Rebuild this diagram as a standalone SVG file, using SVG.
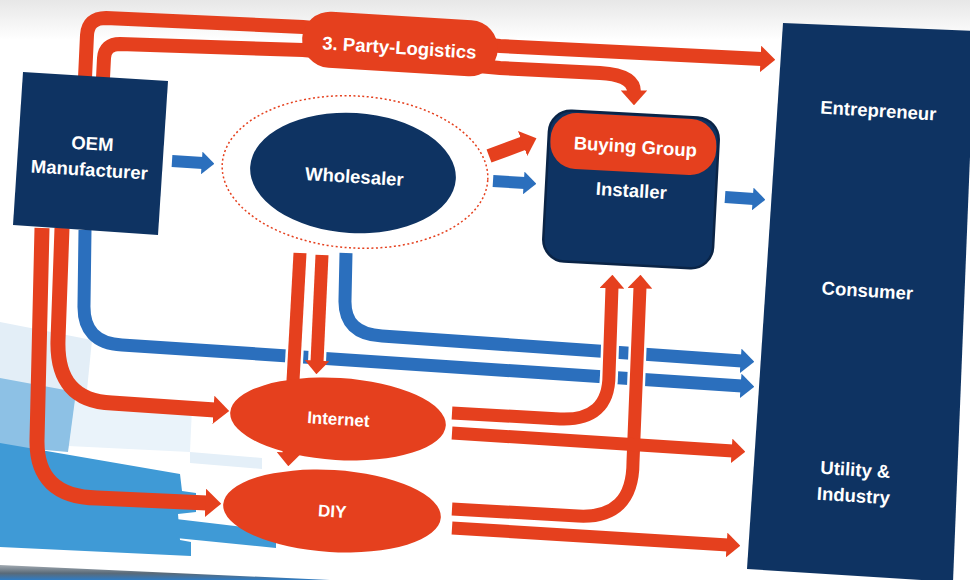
<svg xmlns="http://www.w3.org/2000/svg" width="970" height="580" viewBox="0 0 970 580">
  <defs>
    <linearGradient id="topShade" x1="0" y1="0" x2="0" y2="1">
      <stop offset="0" stop-color="#e7e7e7"/>
      <stop offset="1" stop-color="#ffffff"/>
    </linearGradient>
    <linearGradient id="edgeShade" x1="0" y1="0" x2="0" y2="1">
      <stop offset="0" stop-color="#a3abb2"/>
      <stop offset="0.55" stop-color="#5a6a78"/>
      <stop offset="1" stop-color="#2f7cc4"/>
    </linearGradient>
    <marker id="headRed" viewBox="0 0 10 18" refX="1" refY="9" markerWidth="1.06" markerHeight="1.9" orient="auto">
      <path d="M0,0 L10,9 L0,18 Z" fill="#e5401e"/>
    </marker>
    <marker id="headBlue" viewBox="0 0 10 18" refX="1" refY="9" markerWidth="1.06" markerHeight="1.9" orient="auto">
      <path d="M0,0 L10,9 L0,18 Z" fill="#2b6fbd"/>
    </marker>
    <style>
      .red{fill:none;stroke:#e5401e}
      .blue{fill:none;stroke:#2b6fbd}
      .halo{fill:none;stroke:#ffffff}
      .navy{fill:#0e3362}
      .redfill{fill:#e5401e}
      .lbl{font-family:"Liberation Sans",Arial,sans-serif;font-weight:bold;fill:#ffffff;text-anchor:middle;font-size:18.5px}
      .small{font-size:17px}
    </style>
  </defs>

  <!-- page background -->
  <rect width="970" height="580" fill="#ffffff"/>
  <rect width="970" height="40" fill="url(#topShade)"/>

  <!-- decorative blue blocks, lower left -->
  <g id="backdrop">
    <polygon points="0,322 92,340 86,400 0,384" fill="#e3eef7"/>
    <polygon points="74,394 192,408 190,452 68,446" fill="#eaf3fa"/>
    <polygon points="190,452 262,458 262,469 190,463" fill="#e4eff8"/>
    <polygon points="0,378 76,392 68,452 0,446" fill="#8dc1e5"/>
    <polygon points="0,443 180,474 182,491 196,493 196,512 178,514 180,540 191,542 191,556 0,547" fill="#3f9ad6"/>
    <polygon points="176,519 276,531 276,548 176,538" fill="#3f9ad6"/>
    <polygon points="0,565 330,580 0,580" fill="url(#edgeShade)"/>
  </g>

  <!-- connectors -->
  <g id="connectors">
    <!-- blue flows -->
    <path class="blue" stroke-width="13" d="M85,230 L84,305 Q83,343 122,345 L742,386" marker-end="url(#headBlue)"/>
    <path class="blue" stroke-width="13" d="M346,253 L345,300 Q344,334 382,336 L742,361" marker-end="url(#headBlue)"/>
    <path class="blue" stroke-width="12" d="M172,161 L203,163" marker-end="url(#headBlue)"/>
    <path class="blue" stroke-width="12" d="M493,181 L525,183" marker-end="url(#headBlue)"/>
    <path class="blue" stroke-width="12" d="M725,197 L754,199" marker-end="url(#headBlue)"/>

    <!-- OEM via 3. Party-Logistics -->
    <path class="red" stroke-width="14" d="M85,78 L87,35 Q88,18 106,18 L303,27 L500,46 L762,59" marker-end="url(#headRed)"/>
    <path class="red" stroke-width="14" d="M103,78 L104,58 Q105,44 120,44 L303,50 L500,68 L600,73 Q634,75 634,92" marker-end="url(#headRed)"/>

    <!-- wholesaler to buying group -->
    <path class="red" stroke-width="14" d="M489,156 L524,143" marker-end="url(#headRed)"/>

    <!-- OEM to internet and DIY -->
    <path class="red" stroke-width="15" d="M62,228 L58,340 Q56,401 112,403 L215,410" marker-end="url(#headRed)"/>
    <path class="red" stroke-width="15" d="M42,228 L37,440 Q36,497 97,498 L207,503" marker-end="url(#headRed)"/>

    <!-- wholesaler to DIY and internet -->
    <path class="halo" stroke-width="18" d="M300,253 L289,454"/>
    <path class="red" stroke-width="13" d="M300,253 L289,454" marker-end="url(#headRed)"/>
    <path class="halo" stroke-width="18" d="M322,255 L317,362"/>
    <path class="red" stroke-width="13" d="M322,255 L317,362" marker-end="url(#headRed)"/>

    <!-- internet and DIY up to installer -->
    <path class="halo" stroke-width="18" d="M452,509 L578,516 Q633,519 633,462 L640,287"/>
    <path class="red" stroke-width="13" d="M452,509 L578,516 Q633,519 633,462 L640,287" marker-end="url(#headRed)"/>
    <path class="halo" stroke-width="18" d="M452,413 L560,419 Q609,421 609,375 L612,287"/>
    <path class="red" stroke-width="13" d="M452,413 L560,419 Q609,421 609,375 L612,287" marker-end="url(#headRed)"/>

    <!-- internet and DIY to end customers -->
    <path class="red" stroke-width="13" d="M452,433 L733,451" marker-end="url(#headRed)"/>
    <path class="red" stroke-width="13" d="M452,528 L728,545" marker-end="url(#headRed)"/>
  </g>

  <g id="oem">
    <polygon class="navy" points="23,72 168,81 158,235 13,225"/>
    <text class="lbl" x="92" y="150" transform="rotate(3.5 92 150)">OEM</text>
    <text class="lbl" x="89" y="176" transform="rotate(3.5 89 176)">Manufacturer</text>
  </g>

  <g id="third-party-logistics">
    <rect class="redfill" x="302" y="16" width="196" height="56" rx="28" transform="rotate(3.5 400 44)"/>
    <text class="lbl" x="399" y="54" transform="rotate(3.5 399 54)">3. Party-Logistics</text>
  </g>

  <g id="wholesaler">
    <ellipse cx="355" cy="172" rx="133" ry="76" fill="none" stroke="#e5401e" stroke-width="1.5" stroke-dasharray="2 2.5" transform="rotate(3.5 355 172)"/>
    <ellipse class="navy" cx="353" cy="173" rx="103" ry="60" transform="rotate(3.5 353 173)"/>
    <text class="lbl" x="354" y="183" transform="rotate(3.5 354 183)">Wholesaler</text>
  </g>

  <g id="installer">
    <rect class="navy" x="546" y="114" width="170" height="151" rx="22" stroke="#0a2446" stroke-width="2.5" transform="rotate(3 631 189.5)"/>
    <rect class="redfill" x="548" y="116" width="166" height="56" rx="26" transform="rotate(3 631 189.5)"/>
    <text class="lbl" x="635" y="153" transform="rotate(3.5 635 153)">Buying Group</text>
    <text class="lbl" x="631" y="197" transform="rotate(3.5 631 197)">Installer</text>
  </g>

  <g id="customers">
    <polygon class="navy" points="783,23 975,31 953,582 747,569"/>
    <text class="lbl" x="878" y="117" transform="rotate(3.5 878 117)">Entrepreneur</text>
    <text class="lbl" x="867" y="297" transform="rotate(3.5 867 297)">Consumer</text>
    <text class="lbl" x="855" y="476" transform="rotate(3.5 855 476)">Utility &amp;</text>
    <text class="lbl" x="853" y="502" transform="rotate(3.5 853 502)">Industry</text>
  </g>

  <g id="internet">
    <ellipse class="redfill" cx="338" cy="419" rx="108" ry="41" transform="rotate(3.5 338 419)"/>
    <text class="lbl small" x="338" y="425" transform="rotate(3.5 338 425)">Internet</text>
  </g>

  <g id="diy">
    <ellipse class="redfill" cx="332" cy="511" rx="109" ry="41" transform="rotate(3.5 332 511)"/>
    <text class="lbl small" x="332" y="517" transform="rotate(3.5 332 517)">DIY</text>
  </g>
</svg>
